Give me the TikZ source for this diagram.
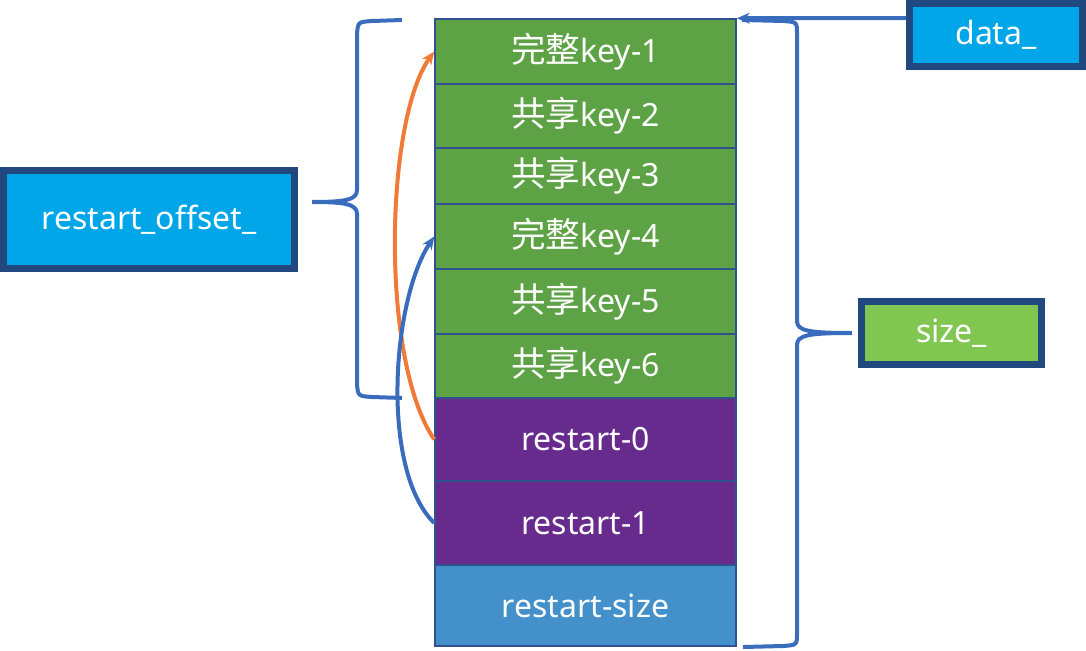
\documentclass[tikz,border=0pt]{standalone}
\usepackage{fontspec}
\setmainfont{Noto Sans}
\newfontfamily\cjk[Scale=1.08]{Noto Sans CJK SC}
\usepackage{tikz}
\usetikzlibrary{arrows.meta}

\definecolor{cellgreen}{RGB}{94,162,70}
\definecolor{cellpurple}{RGB}{103,43,142}
\definecolor{cellblue}{RGB}{67,144,203}
\definecolor{cellline}{RGB}{47,82,143}
\definecolor{boxline}{RGB}{34,72,128}
\definecolor{boxcyan}{RGB}{0,166,232}
\definecolor{boxgreen}{RGB}{130,198,82}
\definecolor{bracecol}{RGB}{58,108,190}
\definecolor{arroworange}{RGB}{240,122,55}

\tikzset{
    cell/.style={rectangle, draw=cellline, line width=1.5pt, inner sep=0pt,
        minimum width=301pt, text=white, font=\fontsize{32}{36}\selectfont},
    var/.style={rectangle, draw=boxline, line width=7pt, inner sep=0pt,
        text=white, font=\fontsize{32}{36}\selectfont},
    brace/.style={draw=bracecol, line width=4pt},
    jump/.style={line width=4pt, -{Stealth[length=13pt,width=11pt]}}
}

\begin{document}
\begin{tikzpicture}[x=1pt, y=-1pt]
    \useasboundingbox (0,0) rectangle (1086,650);
    \node[cell, fill=cellgreen, minimum height=65pt] (k1) at (585.5, 51.5) {{\cjk 完整}key-1};
    \node[cell, fill=cellgreen, minimum height=64pt] (k2) at (585.5, 116) {{\cjk 共享}key-2};
    \node[cell, fill=cellgreen, minimum height=56pt] (k3) at (585.5, 176) {{\cjk 共享}key-3};
    \node[cell, fill=cellgreen, minimum height=65pt] (k4) at (585.5, 236.5) {{\cjk 完整}key-4};
    \node[cell, fill=cellgreen, minimum height=65pt] (k5) at (585.5, 301.5) {{\cjk 共享}key-5};
    \node[cell, fill=cellgreen, minimum height=64pt] (k6) at (585.5, 366) {{\cjk 共享}key-6};
    \node[cell, fill=cellpurple, minimum height=83pt] (r0) at (585.5, 439.5) {restart-0};
    \node[cell, fill=cellpurple, minimum height=84pt] (r1) at (585.5, 523) {restart-1};
    \node[cell, fill=cellblue, minimum height=81pt] (rs) at (585.5, 605.5) {restart-size};

    \node[var, fill=boxcyan, minimum width=173pt, minimum height=63pt] (data) at (996, 35) {data\_};
    \node[var, fill=boxgreen, minimum width=180pt, minimum height=63pt] (size) at (951.5, 333) {size\_};
    \node[var, fill=boxcyan, minimum width=291pt, minimum height=98pt] (offset) at (149, 219.5) {restart\_offset\_};

    % braces
    \coordinate (ltip) at (312,202);
    \coordinate (rtip) at (852,333);
    \draw[brace] (402,20) -- (372,21) .. controls (358,22) .. (357,34) -- (357,190)
        .. controls (357,200) and (345,202) .. (ltip)
        .. controls (345,202) and (357,204) .. (357,214) -- (357,384)
        .. controls (358,396) .. (372,397) -- (402,398);
    \draw[brace] (742,20) -- (783,21) .. controls (797,22) .. (797,34) -- (797,321)
        .. controls (797,331) and (809,333) .. (rtip)
        .. controls (809,333) and (797,335) .. (797,345) -- (797,633)
        .. controls (797,645) .. (783,646) -- (743,647);

    % pointers
    \draw[jump, bracecol] (data.west |- 0,18) -- (k1.north east);
    \draw[jump, arroworange] (r0.west) .. controls (380,360) and (385,120) .. (k1.west);
    \draw[jump, bracecol] (r1.west) .. controls (380,470) and (392,300) .. (k4.west);
\end{tikzpicture}
\end{document}
